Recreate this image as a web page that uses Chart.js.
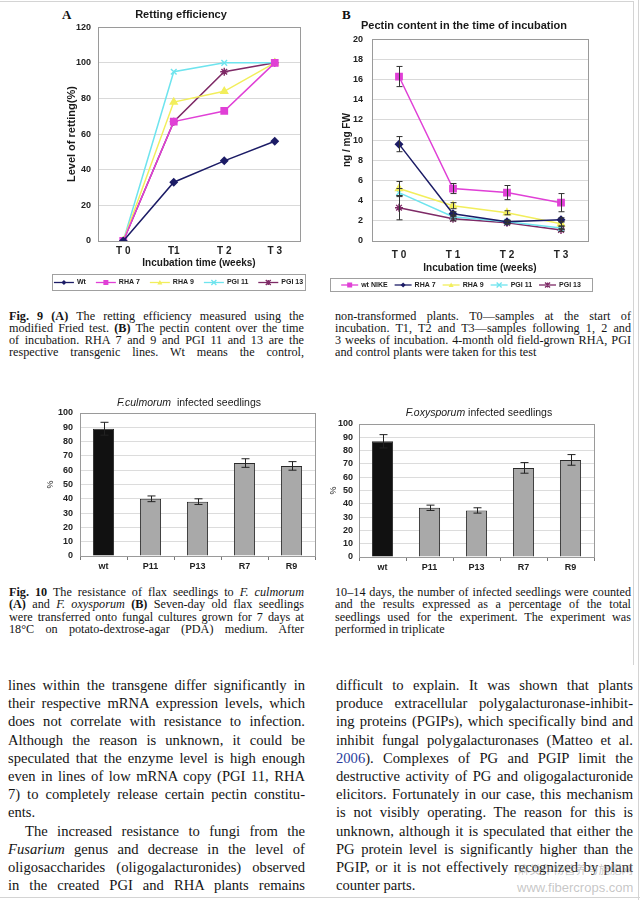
<!DOCTYPE html>
<html>
<head>
<meta charset="utf-8">
<title>Fig. 9 and Fig. 10</title>
<script src="https://cdn.jsdelivr.net/npm/chart.js@4.4.1/dist/chart.umd.min.js"></script>
<style>
  html, body { margin: 0; padding: 0; background: #fff; }
  #page { position: relative; width: 640px; height: 900px; overflow: hidden; background: #fff; }
  canvas { position: absolute; }
  .letter { position: absolute; font: bold 13px "Liberation Serif", serif; color: #111; line-height: 14px; }
  .col { position: absolute; font-family: "Liberation Serif", "Times New Roman", serif; color: #141414; }
  .col div { text-align: justify; text-align-last: justify; }
  .col div.last { text-align: left; text-align-last: left; }
  .rule { position: absolute; background: #d4d4d4; }
  .wm { position: absolute; color: rgba(150, 150, 150, 0.55); white-space: nowrap; }
  .ref { color: #2a3d9c; }
</style>
</head>
<body>
<div id="page">
  <div class="rule" style="left:0;top:1px;width:634px;height:1px"></div>
  <div class="rule" style="left:633px;top:1px;width:1px;height:664px"></div>
  <div class="rule" style="left:638px;top:0;width:1px;height:900px"></div>
  <div class="rule" style="left:0;top:897px;width:640px;height:1px"></div>

  <div class="letter" style="left:62px;top:8px">A</div>
  <div class="letter" style="left:342px;top:8px">B</div>

  <canvas id="chartA" width="284" height="300" style="left:36px;top:0"></canvas>
  <canvas id="chartB" width="320" height="300" style="left:320px;top:0"></canvas>
  <canvas id="chartC" width="320" height="200" style="left:0;top:380px"></canvas>
  <canvas id="chartD" width="320" height="200" style="left:320px;top:380px"></canvas>
</div>

<script>
// Fig. 9 A - retting level (%) per week
const weekLabelsA = ["T 0", "T1", "T 2", "T 3"];
const rettingWt = [0, 33, 45, 56];
const rettingRha7 = [0, 67, 73, 100];
const rettingRha9 = [0, 78, 84, 100];
const rettingPgi11 = [0, 95, 100, 100];
const rettingPgi13 = [0, 67, 95, 100];

// Fig. 9 B - pectin, ng / mg FW
const weekLabelsB = ["T 0", "T 1", "T 2", "T 3"];
const pectinNike = [16.3, 5.2, 4.8, 3.8];
const pectinNikeErr = [1.0, 0.5, 0.7, 0.9];
const pectinRha7 = [9.6, 2.7, 1.9, 2.1];
const pectinRha7Err = [0.75, 0.2, 0.15, 0.2];
const pectinRha9 = [5.2, 3.5, 2.8, 1.7];
const pectinRha9Err = [0.7, 0.3, 0.2, 0.2];
const pectinPgi11 = [4.8, 2.4, 1.9, 1.3];
const pectinPgi11Err = [0.4, 0.2, 0.15, 0.15];
const pectinPgi13 = [3.3, 2.2, 1.8, 1.1];
const pectinPgi13Err = [1.2, 0.2, 0.15, 0.15];

// Fig. 10 - infected seedlings (%)
const seedlingLines = ["wt", "P11", "P13", "R7", "R9"];
const culmorumInfected = [89, 40, 38, 65, 63];
const culmorumErr = [4.5, 2, 2, 3, 3];
const oxysporumInfected = [87, 37, 35, 67, 73];
const oxysporumErr = [5, 2, 2, 4, 4];

const FONT = '"Liberation Sans", Arial, sans-serif';
Chart.defaults.font.family = FONT;
Chart.defaults.color = "#222";

const NAVY = "#1c1c66";
const MAGENTA = "#e040d6";
const YELLOW = "#f2ee5c";
const CYAN = "#6ee4ee";
const PURPLE = "#7e2a66";
const barFill = ["#111111", "#a9a9a9", "#a9a9a9", "#a9a9a9", "#a9a9a9"];

function drawMarker(ctx, style, x, y, r, color) {
  ctx.save();
  ctx.fillStyle = color;
  ctx.strokeStyle = color;
  ctx.lineWidth = 1.3;
  ctx.beginPath();
  if (style === "rect") {
    ctx.rect(x - r, y - r, 2 * r, 2 * r);
    ctx.fill();
  } else if (style === "rectRot") {
    ctx.moveTo(x, y - r); ctx.lineTo(x + r, y); ctx.lineTo(x, y + r); ctx.lineTo(x - r, y);
    ctx.closePath();
    ctx.fill();
  } else if (style === "triangle") {
    ctx.moveTo(x, y - r); ctx.lineTo(x + r, y + r * 0.8); ctx.lineTo(x - r, y + r * 0.8);
    ctx.closePath();
    ctx.fill();
  } else {
    ctx.moveTo(x - r, y - r); ctx.lineTo(x + r, y + r);
    ctx.moveTo(x + r, y - r); ctx.lineTo(x - r, y + r);
    if (style === "star") { ctx.moveTo(x, y - r); ctx.lineTo(x, y + r); }
    ctx.stroke();
  }
  ctx.restore();
}

// grey box round the plot area, excel style
const plotFrame = {
  id: "plotFrame",
  beforeDatasetsDraw(chart) {
    const { ctx, chartArea: a } = chart;
    ctx.save();
    ctx.strokeStyle = "#9a9a9a";
    ctx.lineWidth = 1;
    ctx.strokeRect(Math.round(a.left) + 0.5, Math.round(a.top) + 0.5,
      Math.round(a.right - a.left), Math.round(a.bottom - a.top));
    ctx.restore();
  }
};

// legend in a box under the chart: line + marker + label
function boxLegend(box, lineLen, itemGap) {
  return {
    id: "boxLegend",
    afterDraw(chart) {
      const ctx = chart.ctx;
      ctx.save();
      ctx.strokeStyle = "#a0a0a0";
      ctx.lineWidth = 1;
      ctx.strokeRect(box.x + 0.5, box.y + 0.5, box.w, box.h);
      ctx.font = "bold 7px " + FONT;
      const textGap = 3;
      const items = chart.data.datasets.map(ds => ({ ds, tw: ctx.measureText(ds.label).width }));
      const total = items.reduce((s, it) => s + lineLen + textGap + it.tw, 0) + itemGap * (items.length - 1);
      let x = box.x + (box.w - total) / 2;
      const cy = box.y + box.h / 2 + 0.5;
      items.forEach(it => {
        ctx.strokeStyle = it.ds.borderColor;
        ctx.lineWidth = 1.3;
        ctx.beginPath();
        ctx.moveTo(x, cy);
        ctx.lineTo(x + lineLen, cy);
        ctx.stroke();
        drawMarker(ctx, it.ds.pointStyle, x + lineLen / 2, cy, 2.5, it.ds.borderColor);
        x += lineLen + textGap;
        ctx.fillStyle = "#222";
        ctx.textBaseline = "middle";
        ctx.textAlign = "left";
        ctx.fillText(it.ds.label, x, cy);
        x += it.tw + itemGap;
      });
      ctx.restore();
    }
  };
}

// vertical error bars from the dataset's errors array
function errorBars(cap, color) {
  return {
    id: "errorBars",
    afterDatasetsDraw(chart) {
      const ctx = chart.ctx;
      const yScale = chart.scales.y;
      chart.data.datasets.forEach((ds, di) => {
        if (!ds.errors) return;
        const meta = chart.getDatasetMeta(di);
        ctx.save();
        ctx.strokeStyle = color;
        ctx.lineWidth = 1;
        meta.data.forEach((el, i) => {
          const e = ds.errors[i];
          if (!e) return;
          const x = Math.round(el.x) + 0.5;
          const yTop = yScale.getPixelForValue(ds.data[i] + e);
          const yBot = yScale.getPixelForValue(ds.data[i] - e);
          ctx.beginPath();
          ctx.moveTo(x, yTop); ctx.lineTo(x, yBot);
          ctx.moveTo(x - cap, yTop); ctx.lineTo(x + cap, yTop);
          ctx.moveTo(x - cap, yBot); ctx.lineTo(x + cap, yBot);
          ctx.stroke();
        });
        ctx.restore();
      });
    }
  };
}

// title with an italic species name
function richTitle(parts, cx, cy) {
  return {
    id: "richTitle",
    afterDraw(chart) {
      const ctx = chart.ctx;
      ctx.save();
      ctx.fillStyle = "#1a1a1a";
      ctx.textBaseline = "middle";
      ctx.textAlign = "left";
      let total = 0;
      parts.forEach(p => { ctx.font = p.font; p.w = ctx.measureText(p.text).width; total += p.w; });
      let x = cx - total / 2;
      parts.forEach(p => { ctx.font = p.font; ctx.fillText(p.text, x, cy); x += p.w; });
      ctx.restore();
    }
  };
}

function lineSeries(label, values, errors, color, style, radius) {
  return {
    label, data: values, errors,
    borderColor: color, backgroundColor: color,
    pointBackgroundColor: color, pointBorderColor: color,
    pointStyle: style, pointRadius: radius, pointBorderWidth: 1.4,
    borderWidth: 1.5, tension: 0
  };
}

function lineScales(opts) {
  return {
    x: {
      offset: true,
      grid: { display: false, drawTicks: false },
      border: { color: "#666" },
      ticks: { font: { size: 10, weight: "bold" }, color: "#222", padding: opts.xPad },
      title: { display: true, text: "Incubation time (weeks)", font: { size: 10, weight: "bold" }, color: "#1a1a1a", padding: { top: 0, bottom: 0 } },
      afterFit(s) { s.height = opts.xHeight; }
    },
    y: {
      min: 0, max: opts.max,
      ticks: { stepSize: opts.step, autoSkip: false, font: { size: 9, weight: "bold" }, color: "#222", padding: opts.yPad },
      grid: { color: "#d9d9d9", drawTicks: false },
      border: { color: "#666" },
      title: { display: true, text: opts.yTitle, font: { size: opts.yTitleSize, weight: "bold" }, color: "#1a1a1a", padding: { top: opts.yTitlePad, bottom: 0 } },
      afterFit(s) { s.width = opts.yWidth; }
    }
  };
}

new Chart(document.getElementById("chartA"), {
  type: "line",
  data: {
    labels: weekLabelsA,
    datasets: [
      lineSeries("Wt", rettingWt, null, NAVY, "rectRot", 3.5),
      lineSeries("RHA 7", rettingRha7, null, MAGENTA, "rect", 4.5),
      lineSeries("RHA 9", rettingRha9, null, YELLOW, "triangle", 4),
      lineSeries("PGI 11", rettingPgi11, null, CYAN, "crossRot", 4),
      lineSeries("PGI 13", rettingPgi13, null, PURPLE, "star", 4)
    ]
  },
  options: {
    responsive: false,
    animation: false,
    layout: { padding: { left: 26, right: 20, top: 0, bottom: 31 } },
    plugins: {
      legend: { display: false },
      tooltip: { enabled: false },
      title: { display: true, text: "Retting efficiency", font: { size: 11, weight: "bold" }, color: "#1a1a1a", padding: { top: 8, bottom: 6 } }
    },
    scales: lineScales({ max: 120, step: 20, yTitle: "Level of retting(%)", yTitleSize: 11, yTitlePad: 3, yWidth: 36, yPad: 7, xPad: 4, xHeight: 28 })
  },
  plugins: [plotFrame, boxLegend({ x: 16, y: 274, w: 253, h: 16 }, 20, 10)]
});

new Chart(document.getElementById("chartB"), {
  type: "line",
  data: {
    labels: weekLabelsB,
    datasets: [
      lineSeries("wt NIKE", pectinNike, pectinNikeErr, MAGENTA, "rect", 4.5),
      lineSeries("RHA 7", pectinRha7, pectinRha7Err, NAVY, "rectRot", 3.5),
      lineSeries("RHA 9", pectinRha9, pectinRha9Err, YELLOW, "triangle", 4),
      lineSeries("PGI 11", pectinPgi11, pectinPgi11Err, CYAN, "crossRot", 4),
      lineSeries("PGI 13", pectinPgi13, pectinPgi13Err, PURPLE, "star", 4)
    ]
  },
  options: {
    responsive: false,
    animation: false,
    layout: { padding: { left: 20, right: 52, top: 0, bottom: 26 } },
    plugins: {
      legend: { display: false },
      tooltip: { enabled: false },
      title: { display: true, text: "Pectin content in the time of incubation", font: { size: 11, weight: "bold" }, color: "#1a1a1a", padding: { top: 19, bottom: 7 } }
    },
    scales: lineScales({ max: 20, step: 2, yTitle: "ng / mg FW", yTitleSize: 10, yTitlePad: 1, yWidth: 32, yPad: 9, xPad: 8, xHeight: 33 })
  },
  plugins: [plotFrame, errorBars(3, "#333"), boxLegend({ x: 10, y: 278, w: 262, h: 13 }, 17, 7)]
});

function barChart(id, values, errors, padding, yWidth, yTitlePad, yPad, title) {
  return new Chart(document.getElementById(id), {
    type: "bar",
    data: {
      labels: seedlingLines,
      datasets: [{
        label: "infected seedlings",
        data: values,
        errors: errors,
        backgroundColor: barFill,
        borderColor: "#2a2a2a",
        borderWidth: 1,
        barPercentage: 0.45,
        categoryPercentage: 1
      }]
    },
    options: {
      responsive: false,
      animation: false,
      layout: { padding: padding },
      plugins: { legend: { display: false }, tooltip: { enabled: false }, title: { display: false } },
      scales: {
        x: {
          grid: { display: true, drawOnChartArea: false, drawTicks: true, tickLength: 4, color: "#777" },
          border: { color: "#777" },
          ticks: { font: { size: 9, weight: "bold" }, color: "#222", padding: 1 },
          afterFit(s) { s.height = 20; }
        },
        y: {
          min: 0, max: 100,
          ticks: { stepSize: 10, autoSkip: false, font: { size: 9, weight: "bold", lineHeight: 1 }, color: "#222", padding: yPad },
          grid: { color: "#dcdcdc", drawTicks: false },
          border: { color: "#777" },
          title: { display: true, text: "%", font: { size: 9 }, color: "#222", padding: { top: yTitlePad, bottom: 0 } },
          afterFit(s) { s.width = yWidth; }
        }
      }
    },
    plugins: [plotFrame, errorBars(4, "#222"), title]
  });
}

barChart("chartC", culmorumInfected, culmorumErr, { left: 40, right: 5, top: 33, bottom: 4 }, 40, 5, 7,
  richTitle([{ text: "F.culmorum", font: "italic 10.5px " + FONT }, { text: "  infected seedlings", font: "10.5px " + FONT }], 189, 23));

barChart("chartD", oxysporumInfected, oxysporumErr, { left: 3, right: 46, top: 44, bottom: 3 }, 36, 5, 6,
  richTitle([{ text: "F.oxysporum", font: "italic 10.5px " + FONT }, { text: " infected seedlings", font: "10.5px " + FONT }], 159, 33));

// text columns, one div per printed line so the breaks match the page
const page = document.getElementById("page");
function addColumn(lines, left, top, width, size, lineHeight) {
  const col = document.createElement("div");
  col.className = "col";
  Object.assign(col.style, {
    left: left + "px", top: top + "px", width: width + "px",
    fontSize: size + "px", lineHeight: lineHeight + "px"
  });
  lines.forEach(line => {
    const d = document.createElement("div");
    let html = line;
    if (html.startsWith("~")) { d.className = "last"; html = html.slice(1); }
    if (html.startsWith(">")) { d.style.textIndent = "17px"; html = html.slice(1); }
    d.innerHTML = html;
    col.appendChild(d);
  });
  page.appendChild(col);
}

addColumn([
  "<b>Fig. 9</b> <b>(A)</b> The retting efficiency measured using the",
  "modified Fried test. <b>(B)</b> The pectin content over the time",
  "of incubation. RHA 7 and 9 and PGI 11 and 13 are the",
  "respective transgenic lines. Wt means the control,"
], 9, 310, 295, 12.2, 12);
addColumn([
  "non-transformed plants. T0—samples at the start of",
  "incubation. T1, T2 and T3—samples following 1, 2 and",
  "3 weeks of incubation. 4-month old field-grown RHA, PGI",
  "~and control plants were taken for this test"
], 335, 310, 296, 12.2, 12);

addColumn([
  "<b>Fig. 10</b> The resistance of flax seedlings to <i>F. culmorum</i>",
  "<b>(A)</b> and <i>F. oxysporum</i> <b>(B)</b> Seven-day old flax seedlings",
  "were transferred onto fungal cultures grown for 7 days at",
  "18°C on potato-dextrose-agar (PDA) medium. After"
], 9, 586, 295, 12.2, 12.3);
addColumn([
  "10–14 days, the number of infected seedlings were counted",
  "and the results expressed as a percentage of the total",
  "seedlings used for the experiment. The experiment was",
  "~performed in triplicate"
], 335, 586, 296, 12.2, 12.3);

addColumn([
  "lines within the transgene differ significantly in",
  "their respective mRNA expression levels, which",
  "does not correlate with resistance to infection.",
  "Although the reason is unknown, it could be",
  "speculated that the enzyme level is high enough",
  "even in lines of low mRNA copy (PGI 11, RHA",
  "7) to completely release certain pectin constitu-",
  "~ents.",
  ">The increased resistance to fungi from the",
  "<i>Fusarium</i> genus and decrease in the level of",
  "oligosaccharides (oligogalacturonides) observed",
  "in the created PGI and RHA plants remains"
], 8, 676, 297, 14.6, 18.2);
addColumn([
  "difficult to explain. It was shown that plants",
  "produce extracellular polygalacturonase-inhibit-",
  "ing proteins (PGIPs), which specifically bind and",
  "inhibit fungal polygalacturonases (Matteo et al.",
  "<span class=\"ref\">2006</span>). Complexes of PG and PGIP limit the",
  "destructive activity of PG and oligogalacturonide",
  "elicitors. Fortunately in our case, this mechanism",
  "is not visibly operating. The reason for this is",
  "unknown, although it is speculated that either the",
  "PG protein level is significantly higher than the",
  "PGIP, or it is not effectively recognized by plant",
  "~counter parts."
], 336, 676, 297, 14.6, 18.2);

// site watermark over the bottom right corner
const wm1 = document.createElement("div");
wm1.className = "wm";
wm1.style.cssText += 'left:518px;top:862px;font:11.5px "Noto Sans CJK SC", sans-serif;line-height:14px;';
wm1.textContent = "麻类作物营养与施肥网";
page.appendChild(wm1);
const wm2 = document.createElement("div");
wm2.className = "wm";
wm2.style.cssText += 'left:517px;top:880px;font:13px "Liberation Sans", Arial, sans-serif;line-height:15px;';
wm2.textContent = "www.fibercrops.com";
page.appendChild(wm2);
</script>
</body>
</html>
